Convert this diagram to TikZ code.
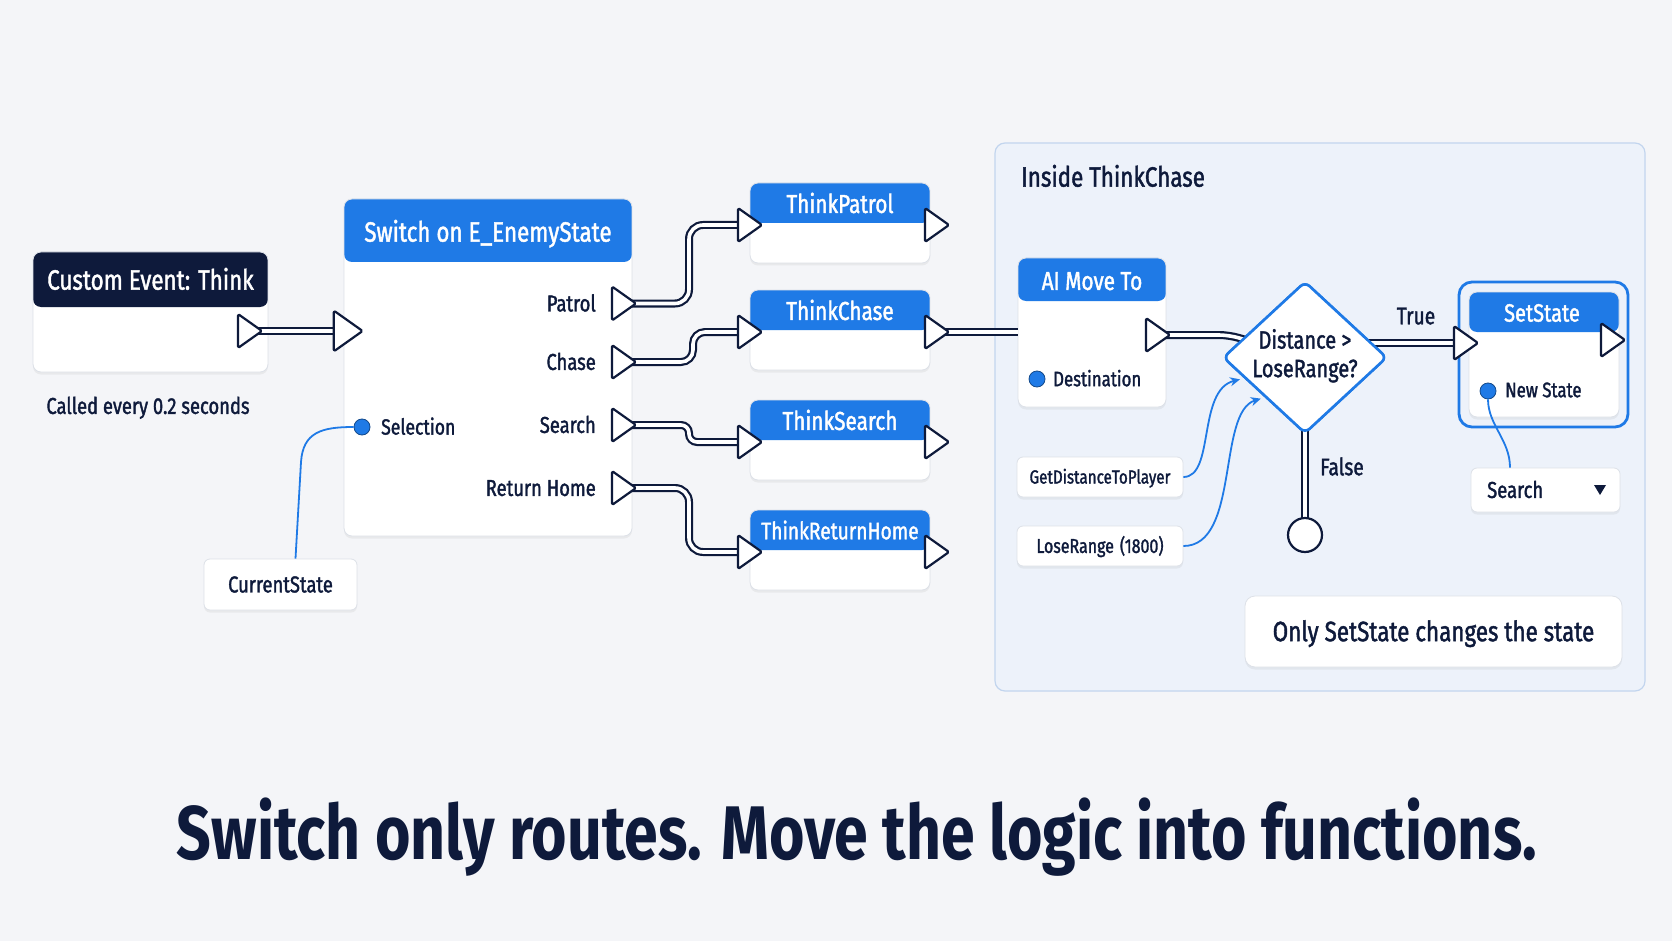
\documentclass[tikz,border=0pt]{standalone}
\usepackage{fontspec}
\setmainfont{Fira Sans}[FakeStretch=0.8,FakeBold=1.5]
\newfontfamily\titlefont{Fira Sans}[FakeStretch=0.8]
\usetikzlibrary{shapes.geometric,calc,arrows.meta,shadows}
\definecolor{bg}{HTML}{F4F5F8}
\definecolor{navy}{HTML}{0E1A3B}
\definecolor{bpblue}{HTML}{1F7AE6}
\definecolor{grpfill}{HTML}{EDF2FA}
\definecolor{grpedge}{HTML}{C2D5EE}
\definecolor{cardedge}{HTML}{DDE1E8}
\tikzset{
 txt/.style={font=\fontsize{#1}{#1}\selectfont, text height={0.69*#1pt}, text depth=0pt, inner sep=0pt, text=navy},
 ht/.style={txt=#1, text=white},
 card/.style={draw=cardedge, line width=0.8pt, fill=white, rounded corners=8pt, inner sep=0pt, drop shadow={shadow xshift=0pt, shadow yshift=-2.5pt, opacity=0.10}},
 pinbox/.style={card, rounded corners=6pt},
 wire/.style={draw=navy, line width=2.2pt, double=white, double distance=3.6pt},
 dwire/.style={draw=bpblue, line width=1.8pt},
 dot/.style={circle, fill=bpblue, draw=bpblue!60!black, line width=0.8pt, minimum size=16pt, inner sep=0pt},
 pics/execpin/.style={code={\draw[navy, line width=2.2pt, fill=white, line join=round, rounded corners=1.5pt] (-11pt,-17pt) -- (13pt,0pt) -- (-11pt,17pt) -- cycle;}},
}
\newcommand\bpcard[7]{%
 \node[card, minimum width=#4pt, minimum height=#5pt, path picture={\fill[#7] ([yshift=2pt]path picture bounding box.north west) rectangle ([yshift=-#6pt]path picture bounding box.north east);}] (#1) at (#2,#3) {};}
\begin{document}
\begin{tikzpicture}[x=1pt,y=-1pt]
\useasboundingbox (0,0) rectangle (1672,941);
\fill[bg] (0,0) rectangle (1672,941);
% group
\node[draw=grpedge, fill=grpfill, line width=1.2pt, rounded corners=10pt, minimum width=650pt, minimum height=548pt, inner sep=0] (grp) at (1320,417) {};
\node[txt=28, anchor=west] (grpT) at (1021,177) {Inside ThinkChase};
% cards
\bpcard{ce}{150.5}{312}{235}{120}{55}{navy}
\bpcard{sw}{488}{367.5}{288}{337}{63}{bpblue}
\bpcard{tp}{840}{223}{180}{80}{40}{bpblue}
\bpcard{tc}{840}{330}{180}{80}{40}{bpblue}
\bpcard{ts}{840}{440}{180}{80}{40}{bpblue}
\bpcard{tr}{840}{550}{180}{80}{40}{bpblue}
\bpcard{ai}{1092}{332.5}{148}{149}{43}{bpblue}
\node[draw=bpblue, line width=2.8pt, rounded corners=13pt, minimum width=169pt, minimum height=145pt, inner sep=0] (ssSel) at (1543.5,354.5) {};
\bpcard{ss}{1544}{354.5}{150}{125}{40}{bpblue}
% small boxes
\node[pinbox, txt=23, minimum width=153pt, minimum height=51pt] (cs) at (280.5,584.5) {CurrentState};
\node[pinbox, txt=19, minimum width=166pt, minimum height=40pt] (gd) at (1100,477) {GetDistanceToPlayer};
\node[pinbox, txt=20, minimum width=166pt, minimum height=40pt] (lr) at (1100,546) {LoseRange\hspace{6pt}(1800)};
\node[pinbox, minimum width=149pt, minimum height=44pt] (dd) at (1545.5,490) {};
\node[card, txt=28, rounded corners=10pt, minimum width=377pt, minimum height=71pt] (note) at (1433.5,631.5) {Only SetState changes the state};
% header titles
\node[ht=28] (ceT) at (150.5,280) {Custom Event: Think};
\node[ht=28] (swT) at (488,232) {Switch on E\_EnemyState};
\node[ht=26] (tpT) at (840,204) {ThinkPatrol};
\node[ht=26] (tcT) at (840,311) {ThinkChase};
\node[ht=26] (tsT) at (840,421) {ThinkSearch};
\node[ht=24] (trT) at (840,531) {ThinkReturnHome};
\node[ht=26] (aiT) at (1092,281) {AI Move To};
\node[ht=25] (ssT) at (1542,313) {SetState};
% pin coordinates
\coordinate (ceOut) at (249,331);
\coordinate (swIn) at (347,331);
\coordinate (pPatrol) at (623,303.5);
\coordinate (pChase) at (623,362);
\coordinate (pSearch) at (623,425);
\coordinate (pReturn) at (623,488);
\coordinate (tpIn) at (749,225);
\coordinate (tpOut) at (936,225);
\coordinate (tcIn) at (749,332);
\coordinate (tcOut) at (936,332);
\coordinate (tsIn) at (749,442);
\coordinate (tsOut) at (936,442);
\coordinate (trIn) at (749,552);
\coordinate (trOut) at (936,552);
\coordinate (aiOut) at (1157,335);
\coordinate (ssIn) at (1465,343);
\coordinate (ssOut) at (1612,340);
% diamond & end
\node[diamond, draw=bpblue, line width=2.6pt, fill=white, rounded corners=6pt, minimum width=164pt, minimum height=152pt, inner sep=0] (dec) at (1305,357.5) {};
% exec wires
\draw[wire] (ceOut) -- (swIn);
\draw[wire, rounded corners=14pt] (pPatrol) -- ++(66,0) |- (tpIn);
\draw[wire, rounded corners=12pt] (pChase) -- ++(70,0) |- (tcIn);
\draw[wire, rounded corners=8pt] (pSearch) -- ++(66,0) |- (tsIn);
\draw[wire, rounded corners=14pt] (pReturn) -- ++(66,0) |- (trIn);
\draw[wire] (tcOut) -- (tcOut -| ai.west);
\draw[wire, rounded corners=10pt] (aiOut) -- ++(72,0) -- (dec.center);
\draw[wire] (dec.center |- ssIn) -- (ssIn);
\draw[wire] (dec.center) -- (1305,520);
% redraw diamond on top
\node[diamond, draw=bpblue, line width=2.6pt, fill=white, rounded corners=6pt, minimum width=164pt, minimum height=152pt, inner sep=0] (decTop) at (dec) {};
\node[circle, draw=navy, line width=2.2pt, fill=white, minimum size=34pt, inner sep=0] (endc) at (1305,535) {};
% pins
\foreach \p in {ceOut,pPatrol,pChase,pSearch,pReturn,tpIn,tpOut,tcIn,tcOut,tsIn,tsOut,trIn,trOut,aiOut,ssIn,ssOut}
  \pic at (\p) {execpin};
\pic[scale=1.2] at (swIn) {execpin};
% data dots
\node[dot] (selDot) at (362,427) {};
\node[dot] (destDot) at (1037,379) {};
\node[dot] (nsDot) at (1488,391) {};
% data wires
\draw[dwire] ([xshift=15pt]cs.north) -- (301,462) .. controls (303,432) and (322,427) .. (selDot.west);
\draw[dwire, -{Stealth[length=10pt,width=9pt]}] (gd.east) .. controls (1215,477) and (1197,390) .. ([shift={(-2.5,2.5)}]$(dec.west)!0.25!(dec.south)$);
\draw[dwire, -{Stealth[length=10pt,width=9pt]}] (lr.east) .. controls (1240,546) and (1217,412) .. ([shift={(-2.5,2.5)}]$(dec.west)!0.5!(dec.south)$);
\draw[dwire] (nsDot.south) .. controls (1488,425) and (1510,440) .. ([xshift=-35.5pt]dd.north);
% dropdown
\node[txt=23, anchor=west] (ddT) at (1487,490) {Search};
\fill[navy] (1594,485) -- (1606,485) -- (1600,495) -- cycle;
% labels
\node[txt=23] (called) at (148,406) {Called every 0.2 seconds};
\node[txt=23, anchor=east] (lPatrol) at (596,303.5) {Patrol};
\node[txt=23, anchor=east] (lChase) at (596,362) {Chase};
\node[txt=23, anchor=east] (lSearch) at (596,425) {Search};
\node[txt=23, anchor=east] (lReturn) at (596,488) {Return Home};
\node[txt=22, anchor=west] (lSel) at (381,427) {Selection};
\node[txt=21, anchor=west] (lDest) at (1053,379) {Destination};
\node[txt=21, anchor=west] (lNs) at (1505,390) {New State};
\node[txt=25] (d1) at (1305,340) {Distance >};
\node[txt=25] (d2) at (1305,368.5) {LoseRange?};
\node[txt=24] (lTrue) at (1416,316) {True};
\node[txt=24, anchor=west] (lFalse) at (1320,467) {False};
% title
\node[txt=76, font=\titlefont\bfseries\fontsize{76}{76}\selectfont] (title) at (857,833) {Switch only routes. Move the logic into functions.};
\end{tikzpicture}
\end{document}
